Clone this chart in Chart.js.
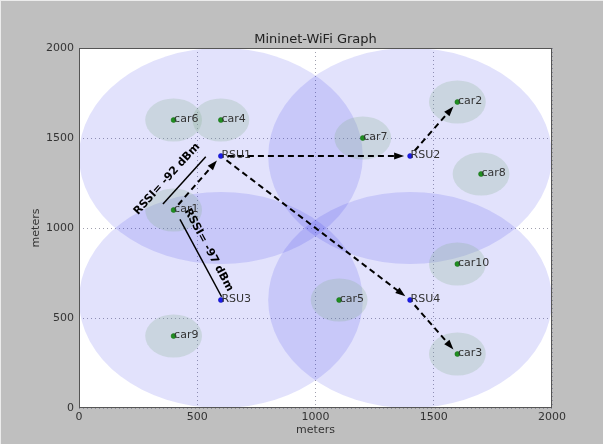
<!DOCTYPE html>
<html>
<head>
<meta charset="utf-8">
<title>Mininet-WiFi Graph</title>
<script src="https://cdn.jsdelivr.net/npm/chart.js@4.4.0/dist/chart.umd.min.js"></script>
<style>
  html, body { margin: 0; padding: 0; background: #bfbfbf; }
  canvas { display: block; }
</style>
</head>
<body>
<canvas id="graph" width="603" height="444"></canvas>
<script>
// Nodes (meters)
const carNames = ['car1', 'car2', 'car3', 'car4', 'car5', 'car6', 'car7', 'car8', 'car9', 'car10'];
const carX = [400, 1600, 1600, 600, 1100, 400, 1200, 1700, 400, 1600];
const carY = [1100, 1700, 300, 1600, 600, 1600, 1500, 1300, 400, 800];

const rsuNames = ['RSU1', 'RSU2', 'RSU3', 'RSU4'];
const rsuX = [600, 1400, 600, 1400];
const rsuY = [1400, 1400, 600, 600];

// Radio ranges (meters)
const rsuRange = 600;
const carRange = 120;

// Dashed arrows: from -> to
const linkFrom = ['car1', 'RSU1', 'RSU2', 'RSU1', 'RSU4'];
const linkTo = ['RSU1', 'RSU2', 'car2', 'RSU4', 'car3'];

// RSSI annotations (meters)
const rssiText = ['RSSI= -92 dBm', 'RSSI= -97 dBm'];
const rssiStartX = [355, 427];
const rssiStartY = [1133, 1048];
const rssiEndX = [536, 603];
const rssiEndY = [1396, 618];
const rssiLabelX = [372, 548];
const rssiLabelY = [1272, 878];

const axisTicks = [0, 500, 1000, 1500, 2000];
const chartTitle = 'Mininet-WiFi Graph';

Chart.defaults.font.family = 'DejaVu Sans';

function px(chart, x, y) {
  return {
    x: chart.scales.x.getPixelForValue(x),
    y: chart.scales.y.getPixelForValue(y),
  };
}

function nodePos(chart, name) {
  let i = carNames.indexOf(name);
  if (i >= 0) {
    const el = chart.getDatasetMeta(0).data[i];
    return { x: el.x, y: el.y };
  }
  i = rsuNames.indexOf(name);
  const el = chart.getDatasetMeta(1).data[i];
  return { x: el.x, y: el.y };
}

function ellipse(chart, cx, cy, r, fill) {
  const c = px(chart, cx, cy);
  const e = px(chart, cx + r, cy + r);
  const ctx = chart.ctx;
  ctx.beginPath();
  ctx.ellipse(c.x, c.y, Math.abs(e.x - c.x), Math.abs(c.y - e.y), 0, 0, Math.PI * 2);
  ctx.fillStyle = fill;
  ctx.fill();
}

const graphPlugin = {
  id: 'graphPlugin',
  beforeDraw(chart) {
    const ctx = chart.ctx;
    const a = chart.chartArea;
    ctx.save();
    ctx.fillStyle = '#bfbfbf';
    ctx.fillRect(0, 0, chart.width, chart.height);
    ctx.fillStyle = '#ececec';
    ctx.fillRect(0, 0, chart.width, 1);
    ctx.fillRect(0, 0, 1, chart.height);
    ctx.fillStyle = '#ffffff';
    ctx.fillRect(a.left, a.top, a.right - a.left, a.bottom - a.top);
    ctx.restore();
  },
  beforeDatasetsDraw(chart) {
    const ctx = chart.ctx;
    const a = chart.chartArea;
    ctx.save();
    ctx.beginPath();
    ctx.rect(a.left, a.top, a.right - a.left, a.bottom - a.top);
    ctx.clip();
    // RSU coverage
    for (let i = 0; i < rsuNames.length; i++) {
      ellipse(chart, rsuX[i], rsuY[i], rsuRange, 'rgba(20, 20, 230, 0.12)');
    }
    // car coverage
    for (let i = 0; i < carNames.length; i++) {
      ellipse(chart, carX[i], carY[i], carRange, 'rgba(130, 175, 140, 0.25)');
    }
    ctx.restore();
  },
  afterDatasetsDraw(chart) {
    const ctx = chart.ctx;
    const a = chart.chartArea;
    ctx.save();

    // dashed arrows
    for (let i = 0; i < linkFrom.length; i++) {
      const p0 = nodePos(chart, linkFrom[i]);
      const p1 = nodePos(chart, linkTo[i]);
      const dx = p1.x - p0.x, dy = p1.y - p0.y;
      const len = Math.sqrt(dx * dx + dy * dy);
      const ux = dx / len, uy = dy / len;
      const nx = -uy, ny = ux;
      const sx = p0.x + ux * 7, sy = p0.y + uy * 7;
      const tx = p1.x - ux * 6, ty = p1.y - uy * 6;
      const head = 10;
      ctx.strokeStyle = '#000';
      ctx.lineWidth = 2;
      ctx.setLineDash([6, 4]);
      ctx.beginPath();
      ctx.moveTo(sx, sy);
      ctx.lineTo(tx - ux * head * 0.8, ty - uy * head * 0.8);
      ctx.stroke();
      ctx.setLineDash([]);
      ctx.fillStyle = '#000';
      ctx.beginPath();
      ctx.moveTo(tx, ty);
      ctx.lineTo(tx - ux * head + nx * 3.5, ty - uy * head + ny * 3.5);
      ctx.lineTo(tx - ux * head - nx * 3.5, ty - uy * head - ny * 3.5);
      ctx.closePath();
      ctx.fill();
    }

    // RSSI lines and labels
    for (let i = 0; i < rssiText.length; i++) {
      const s = px(chart, rssiStartX[i], rssiStartY[i]);
      const e = px(chart, rssiEndX[i], rssiEndY[i]);
      ctx.strokeStyle = '#000';
      ctx.lineWidth = 1.5;
      ctx.beginPath();
      ctx.moveTo(s.x, s.y);
      ctx.lineTo(e.x, e.y);
      ctx.stroke();
      let ang = Math.atan2(e.y - s.y, e.x - s.x);
      if (ang > Math.PI / 2) ang -= Math.PI;
      if (ang < -Math.PI / 2) ang += Math.PI;
      const l = px(chart, rssiLabelX[i], rssiLabelY[i]);
      ctx.save();
      ctx.translate(l.x, l.y);
      ctx.rotate(ang);
      ctx.font = 'bold 11px "DejaVu Sans"';
      ctx.fillStyle = '#000';
      ctx.textAlign = 'center';
      ctx.textBaseline = 'middle';
      ctx.fillText(rssiText[i], 0, 0);
      ctx.restore();
    }

    // node labels
    ctx.font = '11px "DejaVu Sans"';
    ctx.fillStyle = '#333';
    ctx.textAlign = 'left';
    ctx.textBaseline = 'alphabetic';
    carNames.concat(rsuNames).forEach(name => {
      const p = nodePos(chart, name);
      ctx.fillText(name, p.x + 0.5, p.y + 1.5);
    });

    // frame
    ctx.strokeStyle = '#555';
    ctx.lineWidth = 1;
    ctx.strokeRect(a.left + 0.5, a.top + 0.5, a.right - a.left - 1, a.bottom - a.top - 1);

    // title, centred over the plot area
    ctx.font = '13px "DejaVu Sans"';
    ctx.fillStyle = '#222';
    ctx.textAlign = 'center';
    ctx.textBaseline = 'middle';
    ctx.fillText(chartTitle, (a.left + a.right) / 2, a.top - 8);
    ctx.restore();
  },
};

new Chart(document.getElementById('graph'), {
  type: 'scatter',
  data: {
    datasets: [
      {
        label: 'cars',
        data: carX.map((x, i) => ({ x: x, y: carY[i] })),
        pointRadius: 2.5,
        backgroundColor: '#1f8f1f',
        borderColor: '#176817',
        borderWidth: 0.5,
      },
      {
        label: 'rsus',
        data: rsuX.map((x, i) => ({ x: x, y: rsuY[i] })),
        pointRadius: 2.5,
        backgroundColor: '#1a1aee',
        borderColor: '#1010aa',
        borderWidth: 0.5,
      },
    ],
  },
  options: {
    responsive: false,
    animation: false,
    layout: { padding: { left: 0, right: 51, top: 48, bottom: 0 } },
    scales: {
      x: {
        type: 'linear',
        min: 0,
        max: 2000,
        afterBuildTicks: scale => { scale.ticks = axisTicks.map(v => ({ value: v })); },
        afterFit: scale => { scale.height = 36; },
        grid: { color: 'rgba(120, 120, 140, 0.7)', drawTicks: false, lineWidth: 1 },
        border: { display: false, dash: [1, 3] },
        ticks: { color: '#333', font: { size: 11 }, padding: 3, maxRotation: 0, callback: v => String(v) },
        title: { display: true, text: 'meters', color: '#333', font: { size: 11 }, padding: { top: 0, bottom: 7 } },
      },
      y: {
        type: 'linear',
        min: 0,
        max: 2000,
        afterBuildTicks: scale => { scale.ticks = axisTicks.map(v => ({ value: v })); },
        afterFit: scale => { scale.width = 79; },
        grid: { color: 'rgba(120, 120, 140, 0.7)', drawTicks: false, lineWidth: 1 },
        border: { display: false, dash: [1, 3] },
        ticks: { color: '#333', font: { size: 11 }, padding: 5, callback: v => String(v) },
        title: { display: true, text: 'meters', color: '#333', font: { size: 11 }, padding: { top: 30, bottom: 0 } },
      },
    },
    plugins: {
      legend: { display: false },
      tooltip: { enabled: false },
      title: { display: false },
    },
  },
  plugins: [graphPlugin],
});
</script>
</body>
</html>
